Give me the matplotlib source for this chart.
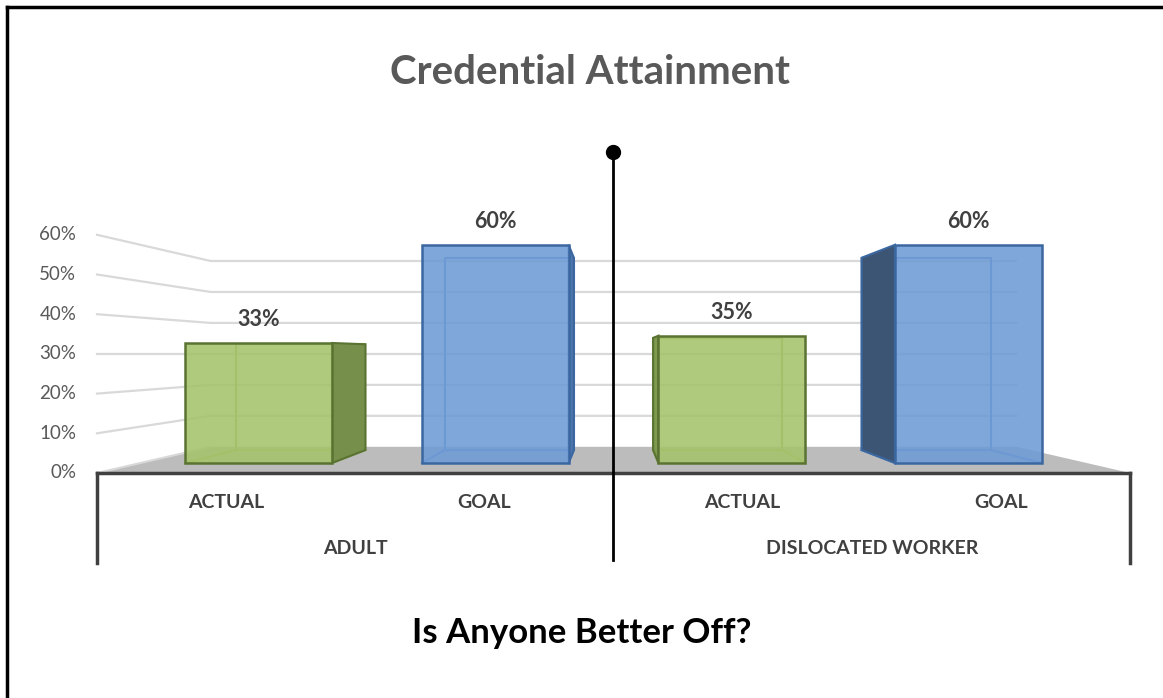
import matplotlib.pyplot as plt
from matplotlib.patches import Polygon
from matplotlib.lines import Line2D

# chart data
categories = ['ACTUAL', 'GOAL', 'ACTUAL', 'GOAL']
groups = ['ADULT', 'DISLOCATED WORKER']
values = [33, 60, 35, 60]
kinds = ['actual', 'goal', 'actual', 'goal']
yticks = [0, 10, 20, 30, 40, 50, 60]

plt.rcParams['font.family'] = ['Lato', 'DejaVu Sans']

W, H = 1163, 698
fig = plt.figure(figsize=(W / 100, H / 100), dpi=100)
ax = fig.add_axes([0, 0, 1, 1])

# front plane: x=0..4 category slots over px 97..1130, 0% at px 473, 10% = 39.7 px
sx = (1130 - 97) / 4
sy = 3.97
ax.set_xlim(-97 / sx, (W - 97) / sx)
ax.set_ylim(-(H - 473) / sy, 473 / sy)
ax.axis('off')

# simple perspective toward a vanishing point
xv, yv = 2.0, 30.0
f_wall, f_front, f_back = 0.78, 0.916, 0.807


def proj(x, y, f):
    return xv + f * (x - xv), yv + f * (y - yv)


grid_c = '#d9d9d9'
# floor
floor = [proj(0, 0, 1), proj(4, 0, 1), proj(4, 0, f_wall), proj(0, 0, f_wall)]
ax.add_patch(Polygon(floor, closed=True, fc='#bcbcbc', ec='none', zorder=1))
ax.plot(*zip(proj(0, 0, 1), proj(0, 0, f_wall)), color=grid_c, lw=1.5, zorder=1)

# gridlines on back and left wall
for t in yticks[1:]:
    b0, b1 = proj(0, t, f_wall), proj(4, t, f_wall)
    s0 = proj(0, t, 1)
    ax.plot([s0[0], b0[0], b1[0]], [s0[1], b0[1], b1[1]], color=grid_c, lw=1.6, zorder=0.5)

for t in yticks:
    ax.text(-0.08, t, f'{t}%', ha='right', va='center', fontsize=13.5, color='#595959')

styles = {
    'actual': dict(face='#a5c36b', side_r='#76904c', side_l='#7e9a4f', edge='#5a7332', inner='#93b35b'),
    'goal': dict(face='#6e9bd5', side_r='#4d74ab', side_l='#3d5574', edge='#3b67a1', inner='#5f8bc6'),
}

hw = 0.31
for i, (v, k) in enumerate(zip(values, kinds)):
    st = styles[k]
    c = i + 0.5
    xl, xr = c - hw, c + hw
    # hidden (back) edges, seen through the box
    back = [proj(xl, 0, f_back), proj(xr, 0, f_back), proj(xr, v, f_back), proj(xl, v, f_back)]
    bx, by = zip(*(back + [back[0]]))
    ax.plot(bx, by, color=st['inner'], lw=1.5, zorder=2)
    for xx in (xl, xr):
        p, q = proj(xx, 0, f_front), proj(xx, 0, f_back)
        ax.plot([p[0], q[0]], [p[1], q[1]], color=st['inner'], lw=1.5, zorder=2)
    # side face
    xs = xr if c < xv else xl
    side = [proj(xs, 0, f_front), proj(xs, v, f_front), proj(xs, v, f_back), proj(xs, 0, f_back)]
    ax.add_patch(Polygon(side, closed=True, fc=st['side_r'] if c < xv else st['side_l'],
                         ec=st['edge'], lw=1.5, zorder=3))
    # front face
    front = [proj(xl, 0, f_front), proj(xr, 0, f_front), proj(xr, v, f_front), proj(xl, v, f_front)]
    ax.add_patch(Polygon(front, closed=True, fc=st['face'], ec='none', alpha=0.88, zorder=4))
    ax.add_patch(Polygon(front, closed=True, fc='none', ec=st['edge'], lw=1.8, zorder=5))
    tx, ty = proj(c, v, f_front)
    ax.annotate(f'{v}%', (tx, ty), xytext=(0, 17), textcoords='offset points',
                ha='center', va='center', fontsize=15.5, weight='bold', color='#404040', zorder=6)

# category axis
axis_c = '#404040'
y_low = -(563 - 473) / sy
ax.plot([0, 4], [0, 0], color=axis_c, lw=2.5, zorder=6)
for xx in (0, 4):
    ax.plot([xx, xx], [0, y_low], color=axis_c, lw=2.5, zorder=6)

for i, cat in enumerate(categories):
    ax.text(i + 0.5, -(503 - 473) / sy, cat, ha='center', va='center', fontsize=14,
            weight='bold', color='#404040')
for j, g in enumerate(groups):
    ax.text(2 * j + 1, -(548 - 473) / sy, g, ha='center', va='center', fontsize=14,
            weight='bold', color='#404040')

# divider line with dot
ax.plot([2, 2], [(473 - 152) / sy, -(560 - 473) / sy], color='black', lw=2, zorder=7)
ax.plot([2], [(473 - 152) / sy], 'o', color='black', ms=10, zorder=8)

fig.text(590 / W, 1 - 72 / H, 'Credential Attainment', ha='center', va='center',
         fontsize=29, weight='bold', color='#595959')
fig.text(582 / W, 1 - 633 / H, 'Is Anyone Better Off?', ha='center', va='center',
         fontsize=25, weight='bold', color='black')

# outer frame (top and left edges)
fig.add_artist(Line2D([7 / W, 7 / W], [0, 1 - 7 / H], color='black', lw=2.5))
fig.add_artist(Line2D([7 / W, 1], [1 - 7 / H, 1 - 7 / H], color='black', lw=2.5))

fig.savefig('out.png', dpi=100)
